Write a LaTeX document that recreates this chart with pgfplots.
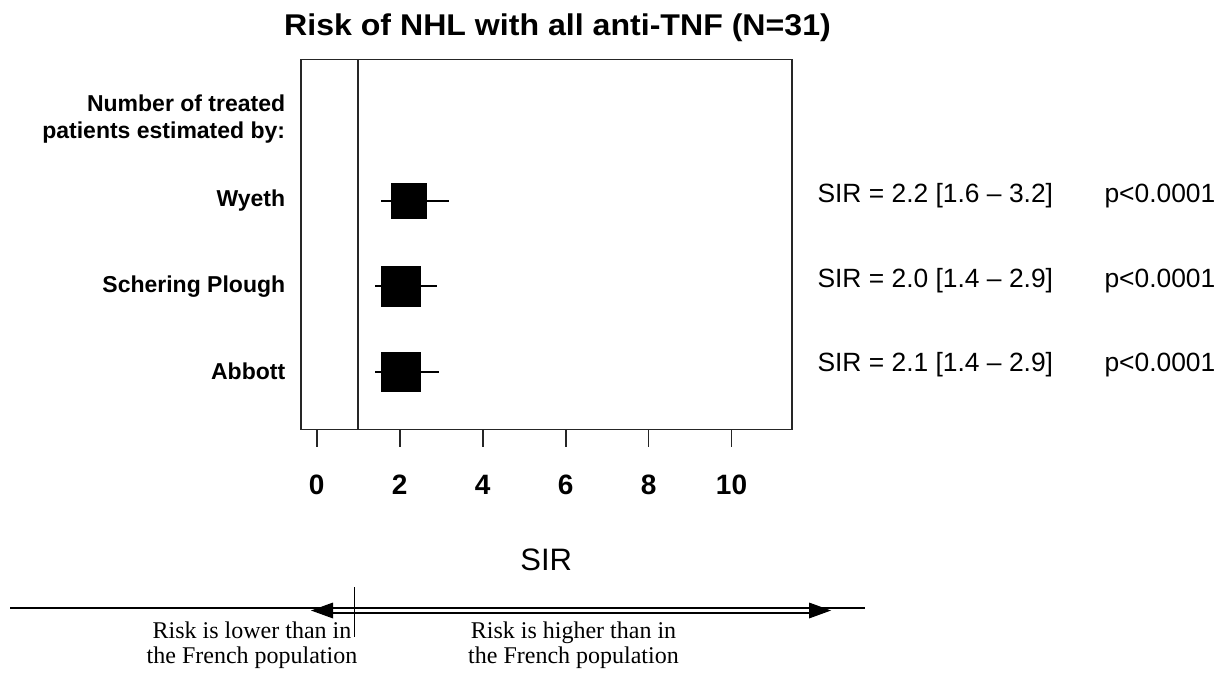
\documentclass[border=0pt]{standalone}
\usepackage{fontspec}
\setmainfont{Liberation Sans}
\newfontfamily\timesfont{Liberation Serif}
\usepackage{graphicx}
\usepackage{pgfplots}
\pgfplotsset{compat=1.18}
\begin{document}
\begin{tikzpicture}[x=1pt,y=1pt]
\useasboundingbox (0,0) rectangle (1226,675);
\begin{axis}[
  at={(300.7pt,245.5pt)}, anchor=south west,
  scale only axis, width=491pt, height=370pt,
  xmin=-0.386, xmax=11.45, ymin=0.324, ymax=4.654,
  xtick={0,2,4,6,8,10},
  tick pos=left,
  tick align=outside,
  major tick length=17pt,
  ytick={1,2,3,3.96},
  yticklabels={Abbott,Schering Plough,Wyeth,{Number of treated\\patients estimated by:}},
  ytick style={draw=none},
  yticklabel style={font=\fontsize{23}{26.7}\selectfont\bfseries, align=right, xshift=5pt},
  xticklabel style={font=\fontsize{28}{30}\selectfont\bfseries, yshift=-25pt},
  /pgf/number format/assume math mode=true,
  axis line style={line width=1.8pt, black!85},
  xtick style={line width=1.8pt, black!85},
  xlabel={SIR},
  xlabel style={font=\fontsize{31}{34}\selectfont, at={(axis description cs:0.5,-0.38)}, anchor=base},
  clip=false,
]
\addplot[black!85, line width=1.8pt] coordinates {(1,0.324) (1,4.654)};
\addplot[only marks, mark=square*, mark size=17.5pt, mark options={fill=black, draw=none},
  error bars/.cd, x dir=both, x explicit, error mark=none,
  error bar style={line width=2pt, black}]
  coordinates {(2.22,3) += (0.98,0) -= (0.68,0)};
\addplot[only marks, mark=square*, mark size=19.75pt, mark options={fill=black, draw=none},
  error bars/.cd, x dir=both, x explicit, error mark=none,
  error bar style={line width=2pt, black}]
  coordinates {(2.02,2) += (0.87,0) -= (0.62,0)
               (2.02,1) += (0.93,0) -= (0.62,0)};
\end{axis}
% title
\node[anchor=base, font=\fontsize{30}{34}\selectfont\bfseries] at (557.5,639) {\scalebox{1.07}[1]{Risk of NHL with all anti-TNF (N=31)}};
% right-side annotations
\node[anchor=base west, font=\fontsize{26.4}{28}\selectfont, inner sep=0pt] at (817.3,472.5) {SIR = 2.2 [1.6 – 3.2]};
\node[anchor=base west, font=\fontsize{26.4}{28}\selectfont, inner sep=0pt] at (1104.3,472.5) {p<0.0001};
\node[anchor=base west, font=\fontsize{26.4}{28}\selectfont, inner sep=0pt] at (817.3,387.5) {SIR = 2.0 [1.4 – 2.9]};
\node[anchor=base west, font=\fontsize{26.4}{28}\selectfont, inner sep=0pt] at (1104.3,387.5) {p<0.0001};
\node[anchor=base west, font=\fontsize{26.4}{28}\selectfont, inner sep=0pt] at (817.3,303) {SIR = 2.1 [1.4 – 2.9]};
\node[anchor=base west, font=\fontsize{26.4}{28}\selectfont, inner sep=0pt] at (1104.3,303) {p<0.0001};
% bottom arrow annotation
\draw[line width=1.2pt] (10,67) -- (865,67);
\draw[line width=1.2pt] (325,67) -- (818,67);
\draw[line width=1.2pt] (325,62) -- (818,62);
\fill (311,64.5) -- (333,72.5) -- (333,56.5) -- cycle;
\fill (831,64.5) -- (809,72.5) -- (809,56.5) -- cycle;
\draw[line width=1.2pt] (354.3,88) -- (354.3,38);
\node[anchor=base, font=\timesfont\fontsize{24}{25}\selectfont, inner sep=0pt] at (252,37) {Risk is lower than in};
\node[anchor=base, font=\timesfont\fontsize{24}{25}\selectfont, inner sep=0pt] at (252,12) {the French population};
\node[anchor=base, font=\timesfont\fontsize{24}{25}\selectfont, inner sep=0pt] at (573.5,37) {Risk is higher than in};
\node[anchor=base, font=\timesfont\fontsize{24}{25}\selectfont, inner sep=0pt] at (573.5,12) {the French population};
\end{tikzpicture}
\end{document}
